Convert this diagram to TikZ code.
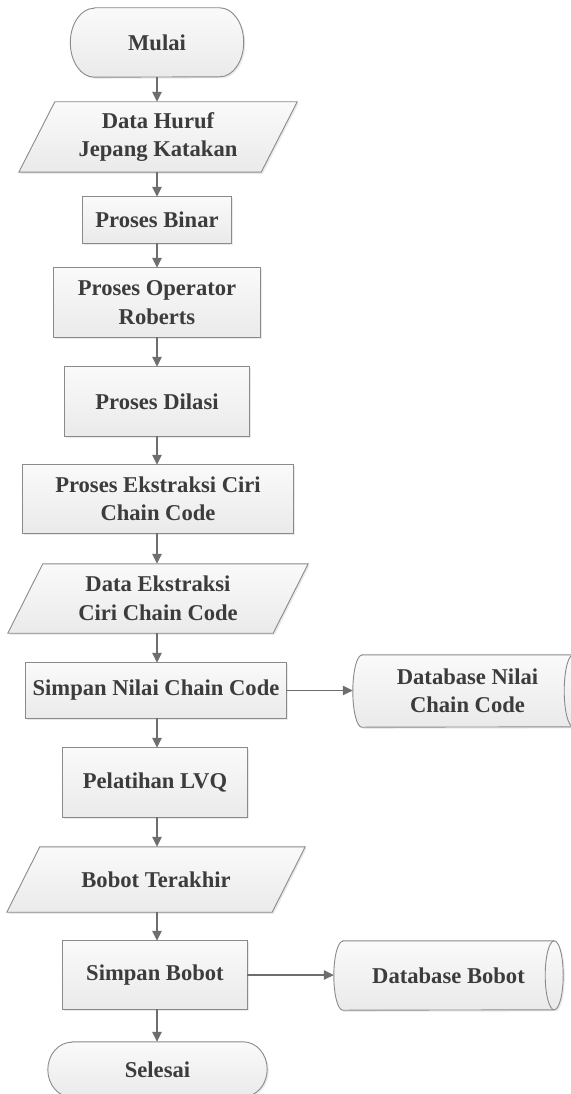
\documentclass[tikz,border=0pt]{standalone}
\usepackage{fontspec}
\setmainfont{Liberation Serif}
\usetikzlibrary{arrows.meta,shadows,backgrounds}

\definecolor{txt}{HTML}{3C3C3C}
\definecolor{edge}{HTML}{8A8A8A}
\definecolor{wire}{HTML}{6E6E6E}
\definecolor{filltop}{HTML}{FAFAFA}
\definecolor{fillbot}{HTML}{EAEAEA}

\begin{document}
\begin{tikzpicture}[x=1pt,y=1pt,
  lbl/.style={inner sep=0pt, align=center, text=txt,
    font=\fontsize{22.6}{28.5}\selectfont\bfseries},
  outline/.style={draw=edge, line width=0.9pt, top color=filltop, bottom color=fillbot,
    drop shadow={opacity=0.16, shadow xshift=1.6pt, shadow yshift=-1.6pt}},
  flow/.style={draw=wire, line width=1.4pt, -{Triangle[length=10pt,width=9.5pt]}},
]
\useasboundingbox (0,0) rectangle (570,-1094);

% ---- main column ----
\node[lbl, minimum width=173pt, minimum height=69pt] (start) at (157,-42.5) {Mulai};
\node[lbl, minimum width=242pt, minimum height=70pt] (in1) at (158,-137) {Data Huruf\\Jepang Katakan};
\node[lbl, minimum width=148pt, minimum height=46pt] (p1) at (157,-220) {Proses Binar};
\node[lbl, minimum width=206pt, minimum height=69pt] (p2) at (157,-302.5) {Proses Operator\\Roberts};
\node[lbl, minimum width=184pt, minimum height=69pt] (p3) at (157,-401.5) {Proses Dilasi};
\node[lbl, minimum width=270pt, minimum height=68pt] (p4) at (158,-499) {Proses Ekstraksi Ciri\\Chain Code};
\node[lbl, minimum width=265pt, minimum height=69pt] (in2) at (158,-598.5) {Data Ekstraksi\\Ciri Chain Code};
\node[lbl, minimum width=260pt, minimum height=55pt] (p5) at (156,-690.5) {Simpan Nilai Chain Code};
\node[lbl, minimum width=184pt, minimum height=69pt] (p6) at (155,-782.5) {Pelatihan LVQ};
\node[lbl, minimum width=265pt, minimum height=65pt] (in3) at (156,-879.5) {Bobot Terakhir};
\node[lbl, minimum width=184pt, minimum height=68pt] (p7) at (155,-975) {Simpan Bobot};
\node[lbl, minimum width=219pt, minimum height=55pt] (stop) at (157.5,-1069.5) {Selesai};

% ---- stores ----
\node[lbl, minimum width=229pt, minimum height=72pt] (db1) at (467.5,-691) {Database Nilai\\Chain Code};
\node[lbl, minimum width=229pt, minimum height=69pt] (db2) at (448.5,-975.5) {Database Bobot};

% ---- shape outlines ----
\begin{pgfonlayer}{background}
  \fill[white] (0,0) rectangle (570,-1094);
  % terminals
  \path[outline] ([xshift=24pt]start.north west) -- ([xshift=-24pt]start.north east)
    arc[start angle=90,end angle=-90,x radius=24pt,y radius=34.5pt]
    -- ([xshift=24pt]start.south west)
    arc[start angle=270,end angle=90,x radius=24pt,y radius=34.5pt] -- cycle;
  \path[outline] ([xshift=24pt]stop.north west) -- ([xshift=-24pt]stop.north east)
    arc[start angle=90,end angle=-90,x radius=24pt,y radius=27.5pt]
    -- ([xshift=24pt]stop.south west)
    arc[start angle=270,end angle=90,x radius=24pt,y radius=27.5pt] -- cycle;
  % data
  \path[outline] ([xshift=18pt]in1.north west) -- ([xshift=18pt]in1.north east)
    -- ([xshift=-18pt]in1.south east) -- ([xshift=-18pt]in1.south west) -- cycle;
  \path[outline] ([xshift=17.5pt]in2.north west) -- ([xshift=17.5pt]in2.north east)
    -- ([xshift=-17.5pt]in2.south east) -- ([xshift=-17.5pt]in2.south west) -- cycle;
  \path[outline] ([xshift=16.5pt]in3.north west) -- ([xshift=16.5pt]in3.north east)
    -- ([xshift=-16.5pt]in3.south east) -- ([xshift=-16.5pt]in3.south west) -- cycle;
  % processes
  \foreach \n in {p1,p2,p3,p4,p5,p6,p7}
    \path[outline] (\n.north west) rectangle (\n.south east);
  % stored data
  \path[outline] ([xshift=9pt]db1.north west) -- ([xshift=-9pt]db1.north east)
    arc[start angle=90,end angle=-90,x radius=9pt,y radius=36pt]
    -- ([xshift=9pt]db1.south west)
    arc[start angle=270,end angle=90,x radius=9pt,y radius=36pt] -- cycle;
  \draw[edge, line width=0.9pt] ([xshift=-9pt]db1.north east)
    arc[start angle=90,end angle=270,x radius=9pt,y radius=36pt];
  \path[outline] ([xshift=9pt]db2.north west) -- ([xshift=-9pt]db2.north east)
    arc[start angle=90,end angle=-90,x radius=9pt,y radius=34.5pt]
    -- ([xshift=9pt]db2.south west)
    arc[start angle=270,end angle=90,x radius=9pt,y radius=34.5pt] -- cycle;
  \draw[edge, line width=0.9pt] ([xshift=-9pt]db2.north east)
    arc[start angle=90,end angle=270,x radius=9pt,y radius=34.5pt];
\end{pgfonlayer}

% ---- connectors ----
\foreach \a/\b in {start/in1,in1/p1,p1/p2,p2/p3,p3/p4,p4/in2,in2/p5,p5/p6,p6/in3,in3/p7,p7/stop}
  \draw[flow] (\a.south -| p1.center) -- (\b.north -| p1.center);
\draw[flow] (p5.east) -- (p5.east -| db1.west);
\draw[flow] (p7.east) -- (p7.east -| db2.west);
\end{tikzpicture}
\end{document}
